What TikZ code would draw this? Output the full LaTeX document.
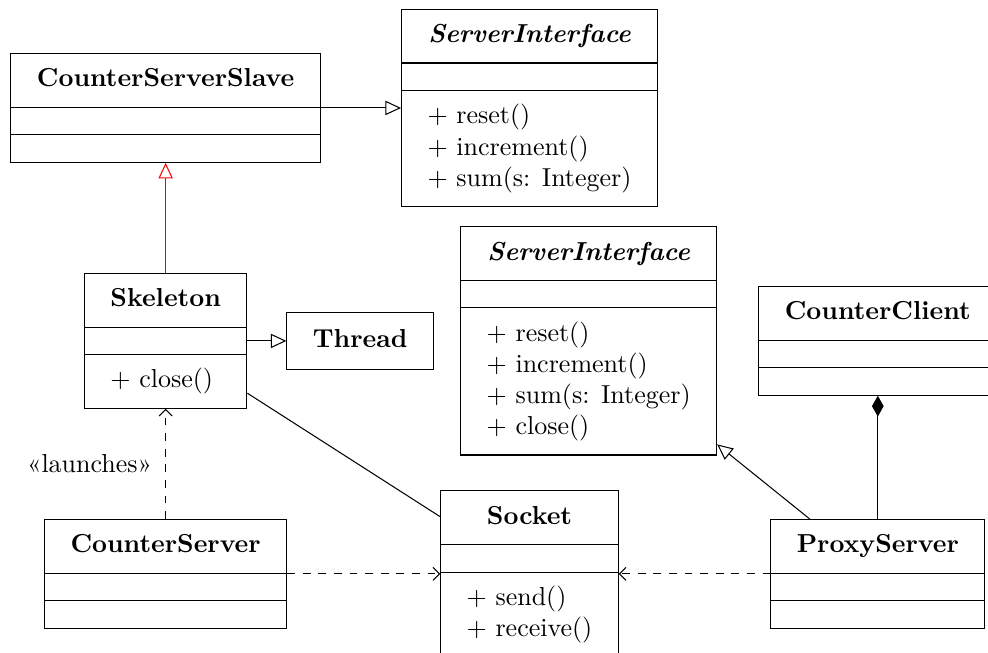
\documentclass[tikz,border=0pt]{standalone}
\usepackage{tikz}
\usetikzlibrary{shapes.multipart, arrows.meta}

\newcommand{\classtitle}[1]{\textbf{#1}\vphantom{()}}
\newcommand{\nomembers}{\rule{0.1pt}{0pt}}

\tikzset{
    umlclass/.style={rectangle split, rectangle split parts=3, draw, align=left,
        rectangle split part align={center,left,left},
        inner xsep=10pt, inner ysep=5.1pt},
    realize/.style={-{Triangle[open, length=6pt, width=5.5pt]}},
    depend/.style={dashed, -{Straight Barb[length=2.5pt, width=5pt]}},
}

\begin{document}
\begin{tikzpicture}
        \useasboundingbox (0, 0) rectangle (13.36, 8.83);

        \node[umlclass] at (2.24, 7.37) (slave) {\classtitle{CounterServerSlave}\nodepart{two}\nomembers\nodepart{three}\nomembers};
        \node[umlclass] at (7.16, 7.37) (iface) {\classtitle{\textit{ServerInterface}}\nodepart{two}\nomembers\nodepart{three}$+$ reset()\\ $+$ increment()\\ $+$ sum(s: Integer)};
        \node[umlclass] at (2.24, 4.22) (skeleton) {\classtitle{Skeleton}\nodepart{two}\nomembers\nodepart{three}$+$ close()};
        \node[draw, inner xsep=10pt, inner ysep=5.1pt] at (4.87, 4.22) (thread) {\textbf{Thread}\strut};
        \node[umlclass] at (7.96, 4.22) (proxyface) {\classtitle{\textit{ServerInterface}}\nodepart{two}\nomembers\nodepart{three}$+$ reset()\\ $+$ increment()\\ $+$ sum(s: Integer)\\ $+$ close()};
        \node[umlclass] at (11.87, 4.22) (client) {\classtitle{CounterClient}\nodepart{two}\nomembers\nodepart{three}\nomembers};
        \node[umlclass] at (2.24, 1.07) (server) {\classtitle{CounterServer}\nodepart{two}\nomembers\nodepart{three}\nomembers};
        \node[umlclass] at (7.16, 1.07) (socket) {\classtitle{Socket}\nodepart{two}\nomembers\nodepart{three}$+$ send()\\ $+$ receive()};
        \node[umlclass] at (11.87, 1.07) (proxy) {\classtitle{ProxyServer}\nodepart{two}\nomembers\nodepart{three}\nomembers};

        \draw [realize] (slave) -- (iface);
        \draw [realize, color=red] (skeleton) -- (slave);
        \draw [realize] (skeleton) -- (thread);
        \draw (skeleton) -- (socket);
        \draw [depend] (server) -- (skeleton) node[midway, left, inner sep=5pt] {«launches»};
        \draw [depend] (server) -- (socket);
        \draw [depend] (proxy) -- (socket);
        \draw [realize] (proxy) -- (proxyface);
        \draw [{Diamond[length=8pt, width=4.5pt]}-] (client) -- (proxy);
\end{tikzpicture}
\end{document}
